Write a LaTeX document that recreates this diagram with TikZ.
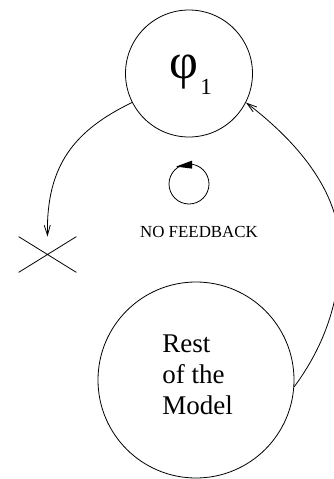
\documentclass[tikz,border=0pt]{standalone}
\usepackage{fontspec}
\setmainfont{Liberation Serif}
\usetikzlibrary{arrows.meta,shapes.misc}
\begin{document}
\begin{tikzpicture}[x=1pt,y=-1pt, line width=0.8pt,
  state/.style={circle,draw,inner sep=0pt},
  barb/.style={-{Straight Barb[length=10pt,width=6pt]}},
  lbl/.style={inner sep=0pt}]
\useasboundingbox (0,0) rectangle (334,479);
\node[state,minimum size=127pt] (phi) at (189,73.5) {};
\node[state,minimum size=196pt] (rest) at (196,380) {};
\node[state,minimum size=40pt] (loop) at (189,184) {};
\node[cross out,draw,minimum width=57pt,minimum height=35pt,inner sep=0pt] (x) at (47.5,254.5) {};
\node[lbl,anchor=base,font=\fontsize{50}{50}\selectfont] (philbl) at (184,78) {φ};
\node[lbl,anchor=base,font=\fontsize{23}{23}\selectfont] (sub) at (206,94) {1};
\node[lbl,anchor=base,font=\fontsize{16.9}{17}\selectfont] (nofb) at (199,237) {NO FEEDBACK};
\node[lbl,anchor=north west,align=left,font=\fontsize{27}{31}\selectfont] (restlbl) at (162,334) {Rest\\of the\\Model};
\fill (loop.north) ++(-13,3) -- ++(16,-6) -- ++(0,8) -- cycle;
\draw[barb] (phi.207) .. controls (75,130) and (46,165) .. (x.north);
\draw[barb] (rest.-4) .. controls (325,345) and (340,300) .. (340,250) .. controls (340,190) and (295,140) .. (phi.-27);
\end{tikzpicture}
\end{document}
